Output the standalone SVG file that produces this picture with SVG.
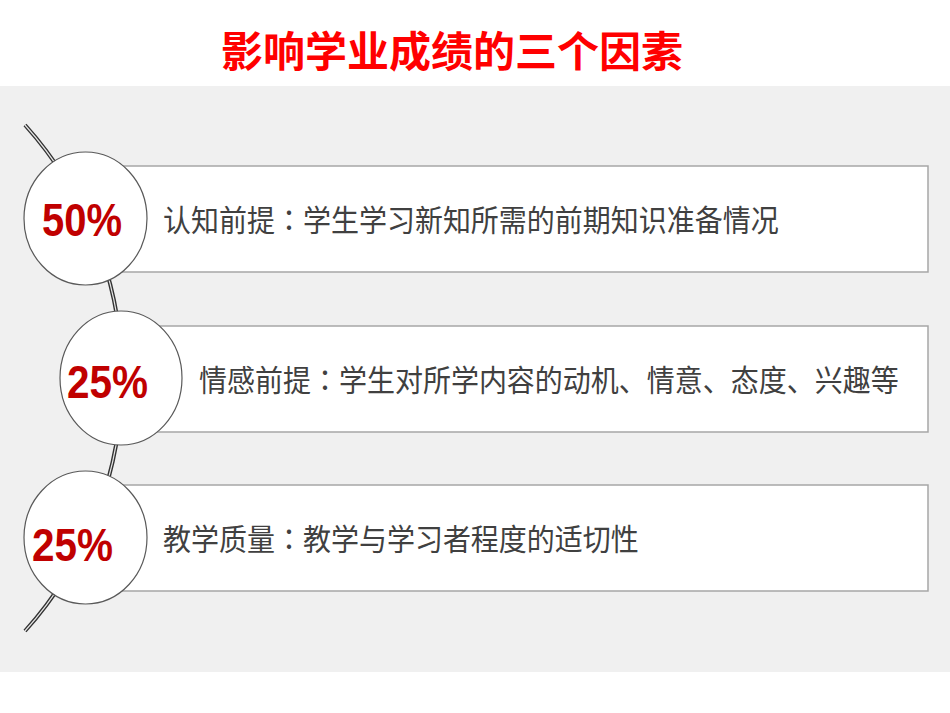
<svg xmlns="http://www.w3.org/2000/svg" width="950" height="713" viewBox="0 0 950 713">
<style>
.title{font-family:"Noto Sans CJK SC","Noto Sans CJK JP",sans-serif;font-weight:bold;font-size:42px;fill:#ff0000}
.box{fill:#ffffff;stroke:#a6a6a6;stroke-width:1.5}
.circ{fill:#ffffff;stroke:#595959;stroke-width:1.2}
.pct{font-family:"Liberation Sans",Arial,sans-serif;font-weight:bold;font-size:46px;fill:#c00000}
.txt{font-family:"Noto Sans CJK SC","Noto Sans CJK JP",sans-serif;font-size:28px;fill:#404040}
.colon{font-family:"Noto Sans CJK TC","Noto Sans CJK SC",sans-serif}
</style>
<rect x="0" y="0" width="950" height="713" fill="#ffffff"/>
<rect x="0" y="86" width="950" height="586" fill="#f0f0f0"/>
<text class="title" x="452" y="67" text-anchor="middle">影响学业成绩的三个因素</text>
<g id="connectors">
<path d="M25,125 A378.5,378.5 0 0 1 25,631" fill="none" stroke="#333333" stroke-width="4"/>
<path d="M25,125 A378.5,378.5 0 0 1 25,631" fill="none" stroke="#e6e6e6" stroke-width="1.2"/>
</g>
<g id="node1">
<rect class="box" x="100" y="166" width="828" height="106"/>
<ellipse class="circ" cx="85.5" cy="218.5" rx="61.5" ry="66.5"/>
<text class="pct" x="42" y="236" textLength="80" lengthAdjust="spacingAndGlyphs">50%</text>
<text class="txt" transform="translate(163,231) scale(1,1.07)" x="0" y="0">认知前提<tspan class="colon">：</tspan>学生学习新知所需的前期知识准备情况</text>
</g>
<g id="node2">
<rect class="box" x="130" y="326" width="798" height="106"/>
<ellipse class="circ" cx="121" cy="378" rx="61" ry="67"/>
<text class="pct" x="67" y="398" textLength="81" lengthAdjust="spacingAndGlyphs">25%</text>
<text class="txt" transform="translate(199,391) scale(1,1.07)" x="0" y="0">情感前提<tspan class="colon">：</tspan>学生对所学内容的动机、情意、态度、兴趣等</text>
</g>
<g id="node3">
<rect class="box" x="100" y="485" width="828" height="106"/>
<ellipse class="circ" cx="85.5" cy="537.5" rx="61.5" ry="66.5"/>
<text class="pct" x="32" y="561" textLength="81" lengthAdjust="spacingAndGlyphs">25%</text>
<text class="txt" transform="translate(163,550) scale(1,1.07)" x="0" y="0">教学质量<tspan class="colon">：</tspan>教学与学习者程度的适切性</text>
</g>
</svg>
